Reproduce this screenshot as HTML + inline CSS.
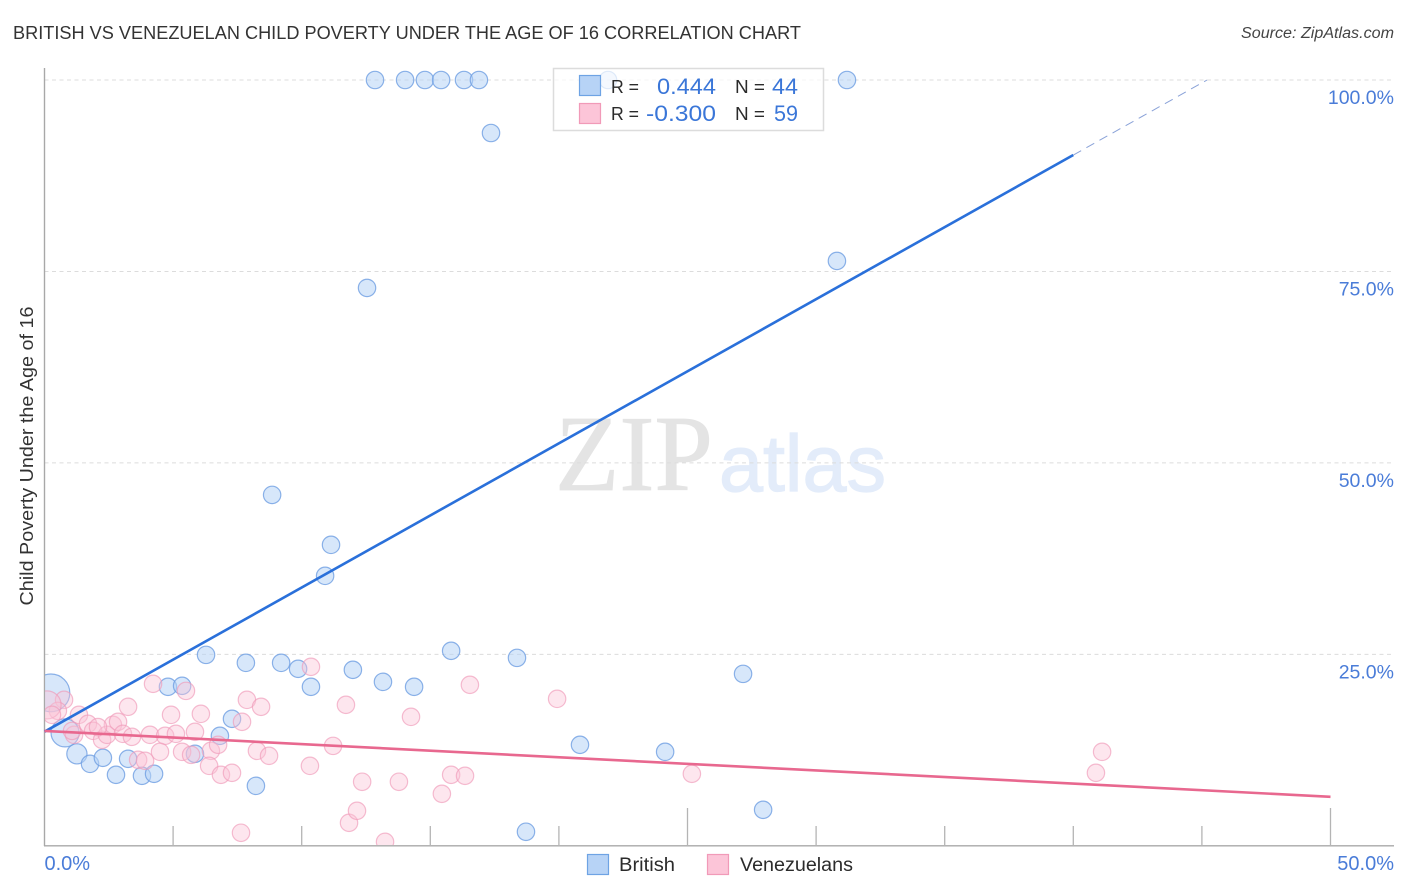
<!DOCTYPE html>
<html lang="en">
<head>
<meta charset="utf-8">
<title>British vs Venezuelan Child Poverty Correlation Chart</title>
<style>
html,body{margin:0;padding:0;background:#fff;}
body{width:1406px;height:892px;overflow:hidden;}
svg{display:block;font-family:"Liberation Sans",sans-serif;}
</style>
</head>
<body>
<svg id="chart" xmlns="http://www.w3.org/2000/svg" width="1406" height="892" viewBox="0 0 1406 892">
  <defs>
    <clipPath id="plot-clip"><rect x="45" y="60" width="1349" height="785"></rect></clipPath>
  </defs>
  <rect x="0" y="0" width="1406" height="892" fill="#fff"></rect>
  <text x="13" y="39" font-size="18.5" fill="#333" textLength="788" lengthAdjust="spacingAndGlyphs">BRITISH VS VENEZUELAN CHILD POVERTY UNDER THE AGE OF 16 CORRELATION CHART</text>
  <text x="1394" y="38" font-size="15.5" font-style="italic" fill="#444" text-anchor="end" textLength="153" lengthAdjust="spacingAndGlyphs">Source: ZipAtlas.com</text>
  <g>
    <text x="555" y="490" font-family="'Liberation Serif',serif" font-size="108" fill="#e4e4e4" stroke="#e4e4e4" stroke-width="0.8" textLength="158" lengthAdjust="spacingAndGlyphs">ZIP</text>
    <text x="719" y="491" font-size="80" fill="#e3ecfa" stroke="#e3ecfa" stroke-width="1.2" textLength="167" lengthAdjust="spacingAndGlyphs">atlas</text>
  </g>
  <g id="grid"></g>
  <g id="axes"></g>
  <text transform="translate(33,456) rotate(-90)" font-size="18.5" fill="#333" text-anchor="middle" textLength="299" lengthAdjust="spacingAndGlyphs">Child Poverty Under the Age of 16</text>
  <g id="points" clip-path="url(#plot-clip)"></g>
  <g id="lines"></g>

  <g>
    <rect x="553.5" y="68.5" width="270" height="62" fill="#fff" fill-opacity="0.72" stroke="#dcdcdc" stroke-width="1.5"></rect>
    <rect x="579.5" y="75.5" width="21" height="20" fill="#b7d3f6" stroke="#6ea3e4" stroke-width="1.2"></rect>
    <rect x="579.5" y="103.5" width="21" height="20" fill="#fcc5d8" stroke="#f19ab8" stroke-width="1.2"></rect>
    <text x="611" y="93" font-size="18" fill="#2b2b2b" textLength="28" lengthAdjust="spacingAndGlyphs">R =</text>
    <text x="657" y="94" font-size="22" fill="#3a76d8" textLength="59" lengthAdjust="spacingAndGlyphs">0.444</text>
    <text x="735" y="93" font-size="18" fill="#2b2b2b" textLength="30" lengthAdjust="spacingAndGlyphs">N =</text>
    <text x="772" y="94" font-size="22" fill="#3a76d8" textLength="26" lengthAdjust="spacingAndGlyphs">44</text>
    <text x="611" y="120" font-size="18" fill="#2b2b2b" textLength="28" lengthAdjust="spacingAndGlyphs">R =</text>
    <text x="646" y="121" font-size="22" fill="#3a76d8" textLength="70" lengthAdjust="spacingAndGlyphs">-0.300</text>
    <text x="735" y="120" font-size="18" fill="#2b2b2b" textLength="30" lengthAdjust="spacingAndGlyphs">N =</text>
    <text x="774" y="121" font-size="22" fill="#3a76d8" textLength="24" lengthAdjust="spacingAndGlyphs">59</text>
  </g>

  <g>
    <g>
      <rect x="587.5" y="854.5" width="21" height="20" fill="#b7d3f6" stroke="#6ea3e4" stroke-width="1.2"></rect>
      <text x="619" y="871" font-size="19" fill="#2b2b2b" textLength="56" lengthAdjust="spacingAndGlyphs">British</text>
    </g>
    <g>
      <rect x="707.5" y="854.5" width="21" height="20" fill="#fcc5d8" stroke="#f19ab8" stroke-width="1.2"></rect>
      <text x="740" y="871" font-size="19" fill="#2b2b2b" textLength="113" lengthAdjust="spacingAndGlyphs">Venezuelans</text>
    </g>
  </g>
</svg>
<script>
var britishX = [12.85,14.02,14.79,15.42,16.31,16.89,31.2,21.91,17.36,30.81,12.54,8.85,11.14,10.91,6.28,7.83,9.2,9.86,10.36,11.99,13.16,14.37,15.81,18.37,27.16,4.8,5.35,7.29,6.82,5.85,1.26,1.77,2.27,3.25,2.78,3.79,4.26,8.22,20.82,24.13,18.72,27.94,0.25,0.8];
var britishY = [100,100,100,100,100,100,100,100,93.08,76.37,72.85,45.82,39.3,35.25,24.93,23.89,23.89,23.11,20.76,22.98,21.41,20.76,25.46,24.54,22.45,20.76,20.89,16.58,14.36,12.01,12.01,10.7,11.49,11.36,9.27,9.14,9.4,7.83,13.19,12.27,1.83,4.7,19.97,14.75];
var britishWeight = [1,1,1,1,1,1,1,1,1,1,1,1,1,1,1,1,1,1,1,1,1,1,1,1,1,1,1,1,1,1,1.35,1,1,1,1,1,1,1,1,1,1,1,4.7,2.6];

var venezuelanX = [10.36,4.22,5.5,3.25,4.92,6.08,7.87,8.42,7.68,0.76,0.52,0.1,0.29,1.34,1.69,1.89,2.24,2.43,2.66,2.86,3.05,3.4,4.1,4.69,5.11,5.85,4.49,5.35,5.7,3.64,3.91,6.47,6.75,6.4,6.86,7.29,8.26,8.73,11.22,10.32,11.72,7.64,1.15,11.84,12.15,16.54,19.93,14.25,12.35,13.78,15.81,16.35,15.45,13.24,25.17,40.88,41.12,2.08,1.07];
var venezuelanY = [23.37,21.15,20.23,18.15,17.1,17.23,19.06,18.15,16.19,19.06,17.62,18.4,17.1,17.1,15.93,15.01,13.84,14.49,15.8,16.19,14.62,14.23,14.49,14.36,14.62,14.88,12.27,12.27,11.88,11.23,11.1,12.4,13.19,10.44,9.27,9.53,12.4,11.75,13.05,10.44,18.41,1.7,14.49,3,4.57,21.02,19.19,16.84,8.36,8.36,9.27,9.14,6.79,0.52,9.4,9.53,12.27,15.5,15];
var venezuelanWeight = [1,1,1,1,1,1,1,1,1,1,1,2.6,1,1,1,1,1,1,1,1,1,1,1,1,1,1,1,1,1,1,1,1,1,1,1,1,1,1,1,1,1,1,1,1,1,1,1,1,1,1,1,1,1,1,1,1,1,1,1];

var britishTrendX = [0,40];
var britishTrendY = [14.9,90.2];
var britishProjectionX = [40,45.2];
var britishProjectionY = [90.2,100];
var venezuelanTrendX = [0,50];
var venezuelanTrendY = [15,6.4];

var yTickValues = [100,75,50,25];
var yTickLabels = ["100.0%","75.0%","50.0%","25.0%"];
var xTickValues = [0,5,10,15,20,25,30,35,40,45,50];
var xMajorTicks = [25,50];
var xEndValues = [0,50];
var xEndLabels = ["0.0%","50.0%"];

var SVGNS = "http://www.w3.org/2000/svg";
function xScale(v){ return 44.5 + v * 25.72; }
function yScale(v){ return 845.8 - v * 7.658; }
function make(tag, parent, props){
  var el = document.createElementNS(SVGNS, tag);
  for (var k in props) { el.setAttribute(k, props[k]); }
  parent.appendChild(el);
  return el;
}
var gridG = document.getElementById("grid");
var axesG = document.getElementById("axes");
var pointsG = document.getElementById("points");
var linesG = document.getElementById("lines");

yTickValues.forEach(function(v, i){
  var g = make("line", gridG, {x1:44.5, x2:1394, y1:yScale(v), y2:yScale(v), stroke:"#dcdcdc", "stroke-width":1, "stroke-dasharray":"4 3.5"});
  
  
  var t = make("text", axesG, {x:1394, y:yScale(v)+24, "font-size":19.5, fill:"#4a7cd8", "text-anchor":"end"});
  t.textContent = yTickLabels[i];
  
  
});

var yAxis = make("line", axesG, {x1:44.5, x2:44.5, y1:68, y2:846, stroke:"#a8a8a8", "stroke-width":1.4});


var xAxis = make("line", axesG, {x1:44, x2:1394, y1:845.8, y2:845.8, stroke:"#a8a8a8", "stroke-width":1.4});



xTickValues.forEach(function(v){
  if (v === 0) { return; }
  var major = xMajorTicks.indexOf(v) >= 0;
  var tick = make("line", axesG, {x1:xScale(v), x2:xScale(v), y1:major ? 808 : 826, y2:846, stroke:"#b4b4b4", "stroke-width":1.3});
  
  
});

xEndValues.forEach(function(v, i){
  var t = make("text", axesG, {x: i === 0 ? xScale(v) : 1394, y:870, "font-size":20, fill:"#4a7cd8", "text-anchor": i === 0 ? "start" : "end"});
  t.textContent = xEndLabels[i];
  
  
});

function radius(w){ return 8.7 * Math.sqrt(w); }

britishX.forEach(function(v, i){
  var c = make("circle", pointsG, {cx:xScale(v), cy:yScale(britishY[i]), r:radius(britishWeight[i]), fill:"#b7d3f6", "fill-opacity":0.55, stroke:"#6f9fe2", "stroke-opacity":0.8, "stroke-width":1.2});
  
  
});
venezuelanX.forEach(function(v, i){
  var c = make("circle", pointsG, {cx:xScale(v), cy:yScale(venezuelanY[i]), r:radius(venezuelanWeight[i]), fill:"#fbc3d6", "fill-opacity":0.42, stroke:"#f09ab8", "stroke-opacity":0.65, "stroke-width":1.2});
  
  
});

var blueLine = make("line", linesG, {x1:xScale(britishTrendX[0]), y1:yScale(britishTrendY[0]), x2:xScale(britishTrendX[1]), y2:yScale(britishTrendY[1]), stroke:"#2a70da", "stroke-width":2.6});


var blueDash = make("line", linesG, {x1:xScale(britishProjectionX[0]), y1:yScale(britishProjectionY[0]), x2:xScale(britishProjectionX[1]), y2:yScale(britishProjectionY[1]), stroke:"#8aa2d8", "stroke-width":1, "stroke-dasharray":"9 6"});


var pinkLine = make("line", linesG, {x1:xScale(venezuelanTrendX[0]), y1:yScale(venezuelanTrendY[0]), x2:xScale(venezuelanTrendX[1]), y2:yScale(venezuelanTrendY[1]), stroke:"#e8688f", "stroke-width":2.6});


</script>
</body>
</html>
